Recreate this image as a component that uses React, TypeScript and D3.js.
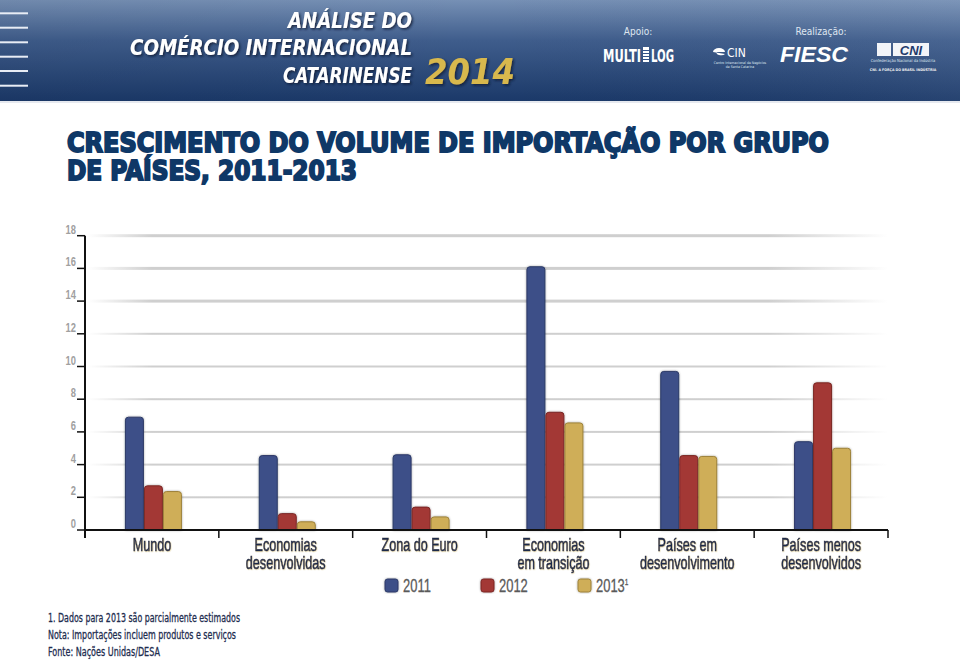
import React from "react";
import * as d3 from "d3";

const categories = [
  ["Mundo"],
  ["Economias", "desenvolvidas"],
  ["Zona do Euro"],
  ["Economias", "em transição"],
  ["Países em", "desenvolvimento"],
  ["Países menos", "desenvolvidos"],
];
const series = ["2011", "2012", "2013"];
const values2011 = [6.9, 4.55, 4.6, 16.1, 9.7, 5.4];
const values2012 = [2.7, 1.0, 1.4, 7.2, 4.55, 9.0];
const values2013 = [2.35, 0.5, 0.8, 6.55, 4.5, 5.0];
const yTicks = [0, 2, 4, 6, 8, 10, 12, 14, 16, 18];
const footnotes = [
  "1. Dados para 2013 são parcialmente estimados",
  "Nota: Importações incluem produtos e serviços",
  "Fonte: Nações Unidas/DESA",
];

const colors = ["#3e4f88", "#a33834", "#cfae58"];
const strokes = ["#2a3866", "#7a2624", "#9c8139"];
const NARROW = "'Liberation Sans Narrow', 'DejaVu Sans Condensed', sans-serif";
const ARIAL = "'Liberation Sans', Arial, sans-serif";

export default function App() {
  const W = 960, H = 660;
  const x0 = 85, x1 = 888;
  const y = d3.scaleLinear().domain([0, 18]).range([530, 235.7]);
  const xCat = d3.scaleBand().domain(categories.map((_, i) => String(i))).range([x0, x1]).padding(0);
  const xSer = d3.scaleBand().domain(series).range([0, 57]).padding(0);
  const data = [values2011, values2012, values2013];

  const barPath = (bx: number, by: number, bw: number, bh: number, r: number) => {
    const rr = Math.min(r, bh);
    return `M${bx},${by + bh}V${by + rr}Q${bx},${by} ${bx + rr},${by}H${bx + bw - rr}Q${bx + bw},${by} ${bx + bw},${by + rr}V${by + bh}Z`;
  };

  return (
    <svg width={W} height={H} style={{ position: "absolute", left: 0, top: 0, background: "#fff" }}>
      <defs>
        <linearGradient id="hdr" x1="0" y1="0" x2="0" y2="1">
          <stop offset="0" stopColor="#7690b5" />
          <stop offset="0.4" stopColor="#3f5d8c" />
          <stop offset="1" stopColor="#1b3969" />
        </linearGradient>
        <linearGradient id="hdrH" x1="0" y1="0" x2="1" y2="0">
          <stop offset="0" stopColor="#000" stopOpacity="0.05" />
          <stop offset="0.5" stopColor="#000" stopOpacity="0" />
          <stop offset="1" stopColor="#fff" stopOpacity="0.05" />
        </linearGradient>
        <linearGradient id="grid" x1="0" y1="0" x2="1" y2="0">
          <stop offset="0" stopColor="#d0d0d0" stopOpacity="0" />
          <stop offset="0.08" stopColor="#cfcfcf" stopOpacity="1" />
          <stop offset="0.85" stopColor="#cfcfcf" stopOpacity="1" />
          <stop offset="1" stopColor="#d0d0d0" stopOpacity="0" />
        </linearGradient>
        <filter id="tshadow" x="-10%" y="-20%" width="130%" height="160%">
          <feDropShadow dx="1.5" dy="1.5" stdDeviation="1" floodColor="#0a1a33" floodOpacity="0.8" />
        </filter>
        <filter id="bshadow" x="-20%" y="-10%" width="140%" height="120%">
          <feDropShadow dx="0" dy="0" stdDeviation="1" floodColor="#000" floodOpacity="0.35" />
        </filter>
        <filter id="lshadow" x="-10%" y="-20%" width="130%" height="160%">
          <feDropShadow dx="0.6" dy="0.6" stdDeviation="0.4" floodColor="#c8b060" floodOpacity="0.6" />
        </filter>
      </defs>

      {/* Header banner */}
      <rect x={0} y={0} width={W} height={101} fill="url(#hdr)" />
      <rect x={0} y={0} width={W} height={101} fill="url(#hdrH)" />
      <rect x={0} y={101} width={W} height={2} fill="#e6e9ef" />
      {[13.3, 27.7, 42.3, 56.7, 71, 85.7].map((ly, i) => (
        <rect key={i} x={0} y={ly - 1} width={28} height={2} fill="#e8edf5" />
      ))}
      <g fontFamily={NARROW} fontWeight="bold" fontStyle="italic" fill="#fff" filter="url(#tshadow)">
        <text x={412} y={28} fontSize={21} textAnchor="end" textLength={124} lengthAdjust="spacingAndGlyphs">ANÁLISE DO</text>
        <text x={412} y={55} fontSize={21} textAnchor="end" textLength={282} lengthAdjust="spacingAndGlyphs">COMÉRCIO INTERNACIONAL</text>
        <text x={412} y={83} fontSize={21} textAnchor="end" textLength={129} lengthAdjust="spacingAndGlyphs">CATARINENSE</text>
        <text x={425} y={84} fontSize={36} fill="#d8b84e" textLength={90} lengthAdjust="spacingAndGlyphs">2014</text>
      </g>
      {/* Logos */}
      <g fontFamily={NARROW} fill="#fff">
        <text x={638} y={35} fontSize={10} textAnchor="middle" fill="#dfe6f0">Apoio:</text>
        <text x={603} y={62} fontSize={17} fontWeight="bold" textLength={38} lengthAdjust="spacingAndGlyphs">MULTI</text>
        <rect x={643} y={47} width={6} height={15} fill="#fff" />
        {[50, 53, 56, 59].map((ly) => <rect key={ly} x={643} y={ly} width={6} height={1} fill="#34528a" />)}
        <text x={651} y={62} fontSize={17} fontWeight="bold" textLength={23} lengthAdjust="spacingAndGlyphs">LOG</text>
        <path d="M713,52 a6,4 0 1,1 12,0 h-8 a4,2 0 0,0 8,2 z" fill="#fff" />
        <text x={727} y={57} fontSize={12}>CIN</text>
        <text x={740} y={64} fontSize={3.5} textAnchor="middle" fill="#dfe6f0">Centro Internacional de Negócios</text>
        <text x={740} y={68} fontSize={3.5} textAnchor="middle" fill="#dfe6f0">de Santa Catarina</text>
        <text x={821} y={35} fontSize={10} textAnchor="middle" fill="#dfe6f0">Realização:</text>
        <text x={780} y={62} fontSize={22} fontWeight="bold" fontStyle="italic" fontFamily={ARIAL} textLength={68} lengthAdjust="spacingAndGlyphs">FIESC</text>
        <rect x={877} y={43} width={14} height={13} fill="#f2f4f8" />
        <rect x={893} y={43} width={36} height={13} fill="#f2f4f8" />
        <text x={911} y={55} fontSize={13} fontWeight="bold" fontStyle="italic" textAnchor="middle" fill="#1e3a6c" fontFamily={ARIAL}>CNI</text>
        <text x={903} y={62} fontSize={4} textAnchor="middle" fill="#dfe6f0">Confederação Nacional da Indústria</text>
        <text x={903} y={71} fontSize={3.6} textAnchor="middle" fill="#f0f0f0" fontWeight="bold">CNI. A FORÇA DO BRASIL INDÚSTRIA</text>
      </g>

      {/* Title */}
      <g fontFamily="'DejaVu Sans', sans-serif" fontWeight="bold" fill="#0f3867" stroke="#0f3867" strokeWidth={2}>
        <text x={67} y={152} fontSize={27} textLength={762} lengthAdjust="spacingAndGlyphs">CRESCIMENTO DO VOLUME DE IMPORTAÇÃO POR GRUPO</text>
        <text x={67} y={180} fontSize={27} textLength={290} lengthAdjust="spacingAndGlyphs">DE PAÍSES, 2011-2013</text>
      </g>

      {/* Gridlines */}
      {yTicks.filter((t) => t > 0).map((t) => (
        <rect key={t} x={88} y={y(t) - (t >= 14 ? 1.5 : 1)} width={800} height={t >= 14 ? 3 : 2} fill="url(#grid)" />
      ))}

      {/* Y axis */}
      <line x1={x0} x2={x0} y1={y(18)} y2={538} stroke="#111" strokeWidth={2} />
      {yTicks.map((t) => (
        <g key={t}>
          <line x1={77} x2={x0} y1={y(t)} y2={y(t)} stroke="#111" strokeWidth={1.5} />
          <g transform={`translate(76,${y(t) - 2}) scale(0.72,1)`}>
            <text x={0} y={0} fontSize={13} fontFamily={ARIAL} fontWeight="bold" fill="#a0a0a0" textAnchor="end">{t}</text>
          </g>
        </g>
      ))}

      {/* Bars */}
      {categories.map((_, ci) => {
        const cx = (xCat(String(ci)) as number) + xCat.bandwidth() / 2;
        const gx = cx - 57 / 2 + 1.5;
        return (
          <g key={ci} filter="url(#bshadow)">
            {series.map((s, si) => {
              const v = data[si][ci];
              const bx = gx + (xSer(s) as number);
              const by = y(v);
              return (
                <path key={s} d={barPath(bx + 0.5, by, xSer.bandwidth() - 1, y(0) - by, 3)}
                  fill={colors[si]} stroke={strokes[si]} strokeWidth={1} />
              );
            })}
          </g>
        );
      })}

      {/* X axis */}
      <line x1={x0} x2={x1} y1={y(0)} y2={y(0)} stroke="#111" strokeWidth={2} />
      {d3.range(categories.length + 1).map((i) => {
        const xx = x0 + i * xCat.bandwidth();
        return <line key={i} x1={xx} x2={xx} y1={y(0)} y2={538} stroke="#111" strokeWidth={1.5} />;
      })}
      {categories.map((lines, ci) => {
        const cx = (xCat(String(ci)) as number) + xCat.bandwidth() / 2;
        return (
          <g key={ci} transform={`translate(${cx},0) scale(0.72,1)`} filter="url(#lshadow)">
            {lines.map((l, li) => (
              <text key={li} x={0} y={551 + li * 18} fontSize={17.5} fontFamily={ARIAL} fill="#1b2a4a"
                stroke="#1b2a4a" strokeWidth={0.6} textAnchor="middle">{l}</text>
            ))}
          </g>
        );
      })}

      {/* Legend */}
      {series.map((s, si) => {
        const lx = [385, 481, 578][si];
        return (
          <g key={s}>
            <rect x={lx} y={579} width={13} height={13} rx={2.5} fill={colors[si]} stroke={strokes[si]} strokeWidth={1} filter="url(#bshadow)" />
            <g transform={`translate(${lx + 18},592) scale(0.72,1)`}>
              <text x={0} y={0} fontSize={18} fontFamily={ARIAL} fill="#5a5a5a" stroke="#5a5a5a" strokeWidth={0.3}>
                {s}
                {si === 2 ? <tspan dy={-7} fontSize={9}>1</tspan> : null}
              </text>
            </g>
          </g>
        );
      })}

      {/* Footnotes */}
      {footnotes.map((f, i) => (
        <text key={i} x={48} y={622 + i * 17} fontSize={13} fontFamily={NARROW} fill="#1e2d4f"
          stroke="#1e2d4f" strokeWidth={0.3}
          textLength={[192, 188, 112][i]} lengthAdjust="spacingAndGlyphs">{f}</text>
      ))}
    </svg>
  );
}
